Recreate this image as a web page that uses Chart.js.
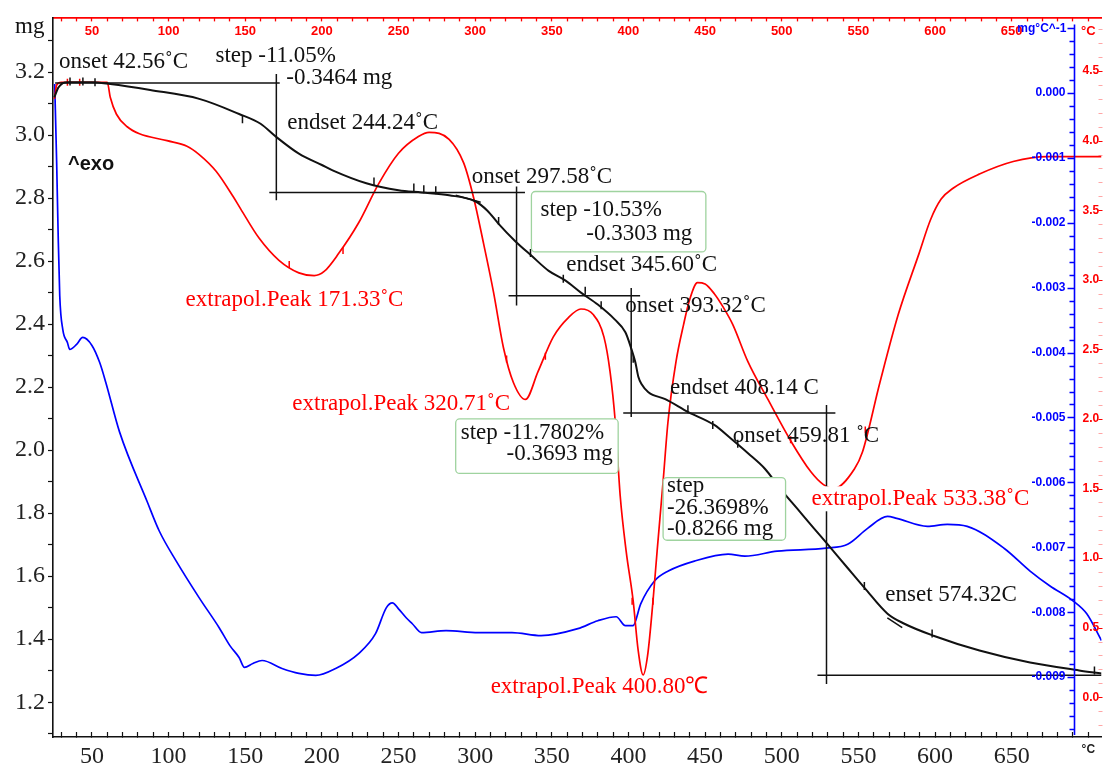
<!DOCTYPE html>
<html>
<head>
<meta charset="utf-8">
<script src="https://cdn.jsdelivr.net/npm/chart.js@4.4.1/dist/chart.umd.min.js"></script>
<style>
  html, body { margin: 0; padding: 0; background: #fff; }
  #wrap { width: 1107px; height: 767px; }
</style>
</head>
<body>
<div id="wrap"><canvas id="c" width="1107" height="767"></canvas></div>
<script>
// ---- TG: sample mass (mg) against temperature (°C)
const tgTemp = [25.5, 28, 31, 34, 50, 62, 88, 120, 146, 160, 170, 185, 200, 207, 229, 250, 265, 283, 300, 308,
  315, 326, 337, 348, 359, 369, 380, 391, 398, 402, 404.5, 406.5, 408.5, 413, 424, 439, 456, 467, 478, 489,
  499, 510, 521, 530, 543, 554, 569, 580, 599, 629, 662, 694, 708.6];
const tgMass = [3.12, 3.15, 3.165, 3.168, 3.168, 3.162, 3.143, 3.115, 3.067, 3.036, 2.995, 2.941, 2.905, 2.888, 2.847, 2.825, 2.818, 2.809, 2.79, 2.76,
  2.72, 2.664, 2.616, 2.569, 2.538, 2.5, 2.462, 2.415, 2.374, 2.32, 2.279, 2.232, 2.21, 2.184, 2.162, 2.121, 2.08, 2.036, 1.99, 1.941,
  1.878, 1.815, 1.752, 1.701, 1.626, 1.563, 1.481, 1.449, 1.411, 1.364, 1.326, 1.301, 1.291];

// ---- DSC signal (right red scale)
const dscTemp = [25.5, 27, 30, 60, 62, 66, 73, 81, 99, 112, 120, 131, 142, 147, 159, 172, 185, 195, 201.5, 211,
  224, 237, 250, 263, 270, 283, 292.5, 299, 305.5, 312, 318.5, 325, 332.8, 341, 351, 361, 369, 377, 384, 388,
  391.4, 394.6, 398.5, 403.1, 406.3, 409.6, 412.5, 416, 418.7, 422.6, 425.8, 431, 436, 440, 445, 450, 456, 462, 468, 478, 491, 506,
  519, 527, 534, 547.4, 552.6, 564, 576, 589.6, 597, 604, 612, 629, 651, 673, 708.6];
const dscSignal = [4.30, 4.40, 4.42, 4.42, 4.31, 4.19, 4.10, 4.05, 4.00, 3.96, 3.90, 3.78, 3.60, 3.51, 3.30, 3.14, 3.05, 3.03, 3.06, 3.19,
  3.41, 3.69, 3.91, 4.03, 4.06, 4.01, 3.84, 3.59, 3.26, 2.91, 2.51, 2.26, 2.14, 2.34, 2.59, 2.73, 2.79, 2.75, 2.59, 2.34,
  1.98, 1.45, 1.05, 0.69, 0.34, 0.16, 0.30, 0.69, 1.05, 1.55, 1.98, 2.41, 2.68, 2.86, 2.98, 2.97, 2.90, 2.80, 2.68, 2.41, 2.14, 1.84,
  1.62, 1.53, 1.50, 1.64, 1.76, 2.26, 2.75, 3.19, 3.43, 3.58, 3.66, 3.76, 3.85, 3.886, 3.886];

// ---- DTG: mass-loss rate (mg/°C, right blue scale)
const dtgTemp = [25.7, 27, 27.9, 29, 31, 34, 35.5, 40, 44, 50, 55, 59, 68, 86, 94, 105, 120, 133, 140, 146,
  149.5, 155, 161, 174, 185, 196, 209, 224, 235, 242, 246, 250, 255, 259, 265, 281, 302, 324, 343, 367,
  380, 392, 398, 403, 408, 417, 426, 443, 465, 476, 497, 529, 543, 556, 569, 575, 595, 608, 621, 645,
  662, 675, 690, 699, 708.6];
const dtgRate = [0.000138, -0.001087, -0.002113, -0.003124, -0.003645, -0.003844, -0.003951, -0.003874, -0.003767, -0.003890,
  -0.004150, -0.004456, -0.005222, -0.006294, -0.006753, -0.007213, -0.007779, -0.008239, -0.008515, -0.008698,
  -0.008851, -0.008790, -0.008744, -0.008867, -0.008943, -0.008974, -0.008867, -0.008637, -0.008331, -0.007933,
  -0.007856, -0.007948, -0.008086, -0.008178, -0.008315, -0.008285, -0.008315, -0.008315, -0.008361, -0.008254,
  -0.008132, -0.008070, -0.008208, -0.008208, -0.007871, -0.007519, -0.007366, -0.007213, -0.007106, -0.007136,
  -0.007060, -0.007014, -0.006953, -0.006708, -0.006524, -0.006554, -0.006677, -0.006646, -0.006677, -0.007014,
  -0.007366, -0.007596, -0.007825, -0.008025, -0.008438];

// ---- step-evaluation construction lines on the TG curve: [T1, mg1, T2, mg2]
const stepLines = [
  [26, 3.165, 172.5, 3.165],
  [170.3, 3.194, 170.3, 2.793],
  [165.7, 2.818, 332.5, 2.818],
  [327, 2.837, 327, 2.459],
  [321.8, 2.49, 407.6, 2.49],
  [401.8, 2.515, 401.8, 2.105],
  [396.6, 2.118, 535, 2.118],
  [529.2, 2.143, 529.2, 1.258],
  [523.3, 1.2855, 708.6, 1.2855],
  [287.3, 2.809, 303.6, 2.787],
  [568.9, 1.468, 578.6, 1.437]
];

// ---- evaluation limit markers on the TG and DSC curves
const tgMarkT = [35.7, 44.1, 52, 148.2, 234, 260, 266.5, 274.3, 315.3, 336.1, 357.5, 371.8, 382.2, 403.1, 438.8, 455, 471.3, 553.9, 598.1, 704];
const tgMarkMg = [3.17, 3.17, 3.168, 3.05, 2.853, 2.834, 2.828, 2.825, 2.727, 2.626, 2.544, 2.506, 2.46, 2.29, 2.13, 2.08, 2.02, 1.569, 1.418, 1.301];
const dscMarkT = [34, 42, 178.7, 213.8, 320.5, 345.8, 402.4, 416, 505.8, 554.5];
const dscMarkV = [4.42, 4.42, 3.11, 3.21, 2.43, 2.45, 0.69, 0.69, 1.85, 1.92];

// ---- axis ticks
const tempLabelTicks = [50, 100, 150, 200, 250, 300, 350, 400, 450, 500, 550, 600, 650];
const tempUnitTick = 700;
const massLabelTicks = [1.2, 1.4, 1.6, 1.8, 2.0, 2.2, 2.4, 2.6, 2.8, 3.0, 3.2];
const dtgLabelTicks = [0, -0.001, -0.002, -0.003, -0.004, -0.005, -0.006, -0.007, -0.008, -0.009];
const dscLabelTicks = [4.5, 4.0, 3.5, 3.0, 2.5, 2.0, 1.5, 1.0, 0.5, 0.0];

// ---- evaluation texts, anchored in temperature / mass units
const notes = [
  { text: 'onset 42.56˚C', t: 28.5, m: 3.213 },
  { text: 'step -11.05%', t: 130.6, m: 3.232 },
  { text: '-0.3464 mg', t: 176.8, m: 3.162 },
  { text: 'endset 244.24˚C', t: 177.4, m: 3.02 },
  { text: 'onset 297.58˚C', t: 297.7, m: 2.847 },
  { text: 'endset 345.60˚C', t: 359.5, m: 2.569 },
  { text: 'onset 393.32˚C', t: 397.9, m: 2.437 },
  { text: 'endset 408.14 C', t: 427.1, m: 2.178 },
  { text: 'onset 459.81 ˚C', t: 468.1, m: 2.027 },
  { text: 'enset 574.32C', t: 567.6, m: 1.522 }
];
const peakNotes = [
  { text: 'extrapol.Peak 171.33˚C', t: 111.1, m: 2.456, bg: false },
  { text: 'extrapol.Peak 320.71˚C', t: 180.7, m: 2.127, bg: false },
  { text: 'extrapol.Peak 400.80℃', t: 310.1, m: 1.228, bg: false },
  { text: 'extrapol.Peak 533.38˚C', t: 519.4, m: 1.825, bg: true }
];
const stepBoxes = [
  { t1: 336.7, m1: 2.821, t2: 450.5, m2: 2.629,
    lines: [{ text: 'step -10.53%', t: 342.6, m: 2.743 }, { text: '-0.3303 mg', t: 372.5, m: 2.667 }] },
  { t1: 287.3, m1: 2.099, t2: 393.3, m2: 1.926,
    lines: [{ text: 'step -11.7802%', t: 290.6, m: 2.036 }, { text: '-0.3693 mg', t: 320.5, m: 1.970 }] },
  { t1: 422.6, m1: 1.913, t2: 502.5, m2: 1.714,
    lines: [{ text: 'step', t: 425.2, m: 1.866 }, { text: '-26.3698%', t: 425.2, m: 1.796 }, { text: '-0.8266 mg', t: 425.2, m: 1.73 }] }
];

const RED = '#ff0000';
const BLUE = '#0000ff';
const BLACK = '#111111';
const SERIF = '"Liberation Serif", "Times New Roman", serif';
const SANS = '"Liberation Sans", Arial, sans-serif';

const pts = (xs, ys) => xs.map((x, i) => ({ x, y: ys[i] }));

function tempTicks(scale) {
  const list = [];
  for (let t = 30; t <= tempUnitTick; t += 10) list.push({ value: t });
  scale.ticks = list;
}
function tempLabel(v) {
  if (v === tempUnitTick) return '°C';
  return tempLabelTicks.includes(v) ? String(v) : '';
}

const datasets = [
  { label: 'TG', data: pts(tgTemp, tgMass), yAxisID: 'y', borderColor: BLACK, borderWidth: 2,
    pointRadius: 0, cubicInterpolationMode: 'monotone', fill: false }
];
stepLines.forEach(s => datasets.push({
  data: [{ x: s[0], y: s[1] }, { x: s[2], y: s[3] }], yAxisID: 'y', borderColor: BLACK,
  borderWidth: 1.5, pointRadius: 0, tension: 0, fill: false
}));
datasets.push({ data: pts(tgMarkT, tgMarkMg), yAxisID: 'y', showLine: false, pointStyle: 'line',
  rotation: 90, pointRadius: 4, borderColor: BLACK, borderWidth: 1.5 });
datasets.push({ label: 'DSC', data: pts(dscTemp, dscSignal), yAxisID: 'yR', borderColor: RED, borderWidth: 1.7,
  pointRadius: 0, cubicInterpolationMode: 'monotone', fill: false });
datasets.push({ data: pts(dscMarkT, dscMarkV), yAxisID: 'yR', showLine: false, pointStyle: 'line',
  rotation: 90, pointRadius: 3.5, borderColor: RED, borderWidth: 1.5 });
datasets.push({ label: 'DTG', data: pts(dtgTemp, dtgRate), yAxisID: 'yB', borderColor: BLUE, borderWidth: 1.7,
  pointRadius: 0, cubicInterpolationMode: 'monotone', fill: false });

// Evaluation texts, boxes and the two right-hand value axes
const overlay = {
  id: 'overlay',
  afterDatasetsDraw(chart) {
    const { ctx, scales } = chart;
    const X = t => scales.x.getPixelForValue(t);
    const Y = m => scales.y.getPixelForValue(m);
    ctx.save();
    ctx.textBaseline = 'alphabetic';
    ctx.textAlign = 'left';

    // boxed step results
    stepBoxes.forEach(b => {
      const x1 = X(b.t1), y1 = Y(b.m1), x2 = X(b.t2), y2 = Y(b.m2);
      ctx.beginPath();
      ctx.roundRect(x1, y1, x2 - x1, y2 - y1, 4);
      ctx.fillStyle = '#ffffff';
      ctx.fill();
      ctx.strokeStyle = '#9fd39f';
      ctx.lineWidth = 1.3;
      ctx.stroke();
      ctx.fillStyle = BLACK;
      ctx.font = '23px ' + SERIF;
      b.lines.forEach(l => ctx.fillText(l.text, X(l.t), Y(l.m)));
    });

    ctx.font = '23px ' + SERIF;
    ctx.fillStyle = BLACK;
    notes.forEach(n => ctx.fillText(n.text, X(n.t), Y(n.m)));

    peakNotes.forEach(n => {
      const x = X(n.t), y = Y(n.m);
      if (n.bg) {
        const w = ctx.measureText(n.text).width;
        ctx.fillStyle = '#ffffff';
        ctx.fillRect(x - 2, y - 19, w + 4, 25);
      }
      ctx.fillStyle = RED;
      ctx.fillText(n.text, x, y);
    });

    ctx.fillStyle = BLACK;
    ctx.font = 'bold 20px ' + SANS;
    ctx.fillText('^exo', X(34.4), Y(2.888));
    ctx.restore();
  },
  afterDraw(chart) {
    const { ctx, chartArea, scales } = chart;
    const yB = scales.yB, yR = scales.yR;
    const bx = chartArea.right - 27;
    const top = chartArea.top + 7, bottom = chartArea.bottom - 2;
    ctx.save();

    // DTG axis (blue)
    ctx.strokeStyle = BLUE;
    ctx.lineWidth = 1.6;
    ctx.beginPath();
    ctx.moveTo(bx, top);
    ctx.lineTo(bx, bottom);
    for (let i = -50; i <= 5; i++) {
      const y = yB.getPixelForValue(i * 0.0002);
      if (y < top || y > bottom) continue;
      const len = i % 5 === 0 ? 7 : 5;
      ctx.moveTo(bx - len, Math.round(y) + 0.5);
      ctx.lineTo(bx, Math.round(y) + 0.5);
    }
    ctx.stroke();
    ctx.fillStyle = BLUE;
    ctx.font = 'bold 12px ' + SANS;
    ctx.textAlign = 'right';
    ctx.textBaseline = 'middle';
    dtgLabelTicks.forEach(v => ctx.fillText(v.toFixed(3), bx - 9, yB.getPixelForValue(v)));
    ctx.fillText('mg°C^-1', bx - 8, 29);

    // DSC axis (red)
    ctx.fillStyle = RED;
    ctx.textAlign = 'left';
    dscLabelTicks.forEach(v => ctx.fillText(v.toFixed(1), bx + 8, yR.getPixelForValue(v)));
    ctx.strokeStyle = RED;
    ctx.lineWidth = 1;
    for (let i = -2; i <= 48; i++) {
      const y = yR.getPixelForValue(i / 10);
      if (y < top || y > bottom) continue;
      ctx.globalAlpha = i % 5 === 0 ? 1 : 0.35;
      ctx.beginPath();
      ctx.moveTo(chartArea.right - 3, Math.round(y) + 0.5);
      ctx.lineTo(chartArea.right + 1, Math.round(y) + 0.5);
      ctx.stroke();
    }
    ctx.globalAlpha = 1;

    // mass unit
    ctx.fillStyle = BLACK;
    ctx.font = '23px ' + SERIF;
    ctx.textAlign = 'left';
    ctx.textBaseline = 'alphabetic';
    ctx.fillText('mg', 15, 33);
    ctx.restore();
  }
};

new Chart(document.getElementById('c'), {
  type: 'line',
  data: { datasets },
  plugins: [overlay],
  options: {
    responsive: false,
    animation: false,
    events: [],
    devicePixelRatio: 1,
    layout: { padding: { left: 0, right: 2, top: 0, bottom: 0 } },
    plugins: { legend: { display: false }, tooltip: { enabled: false } },
    scales: {
      x: {
        type: 'linear', position: 'bottom', min: 24.6, max: 708.6,
        afterBuildTicks: tempTicks,
        afterFit: s => { s.height = 30; },
        grid: { drawOnChartArea: false, tickLength: -5, color: BLACK, tickWidth: 1.2 },
        border: { color: BLACK, width: 1.6 },
        ticks: {
          autoSkip: false, maxRotation: 0, padding: 10, color: '#222',
          callback: tempLabel,
          font: c => (c.tick && c.tick.value === tempUnitTick)
            ? { family: SANS, size: 12, weight: 'bold' } : { family: SERIF, size: 24 }
        }
      },
      xTop: {
        type: 'linear', position: 'top', min: 24.6, max: 708.6,
        afterBuildTicks: tempTicks,
        afterFit: s => { s.height = 13; },
        grid: { drawOnChartArea: false, tickLength: -4, color: RED, tickWidth: 1.3 },
        border: { color: RED, width: 1.8 },
        ticks: {
          autoSkip: false, maxRotation: 0, mirror: true, padding: 6, color: RED,
          callback: tempLabel,
          font: { family: SANS, size: 13, weight: 'bold' }
        }
      },
      y: {
        type: 'linear', position: 'left', min: 1.0896, max: 3.3735,
        afterBuildTicks: s => {
          const list = [];
          for (let i = 11; i <= 33; i++) list.push({ value: i / 10 });
          s.ticks = list;
        },
        afterFit: s => { s.width = 53; },
        grid: { drawOnChartArea: false, tickLength: 5, color: BLACK, tickWidth: 1.2 },
        border: { color: BLACK, width: 1.6 },
        ticks: {
          autoSkip: false, padding: 3, color: '#222',
          font: { family: SERIF, size: 24 },
          callback: v => {
            const r = Math.round(v * 10) / 10;
            return massLabelTicks.some(m => Math.abs(m - r) < 1e-6) ? r.toFixed(1) : '';
          }
        }
      },
      yB: { type: 'linear', display: false, min: -0.009923, max: 0.001164 },
      yR: { type: 'linear', display: false, min: -0.286, max: 4.886 }
    }
  }
});
</script>
</body>
</html>
